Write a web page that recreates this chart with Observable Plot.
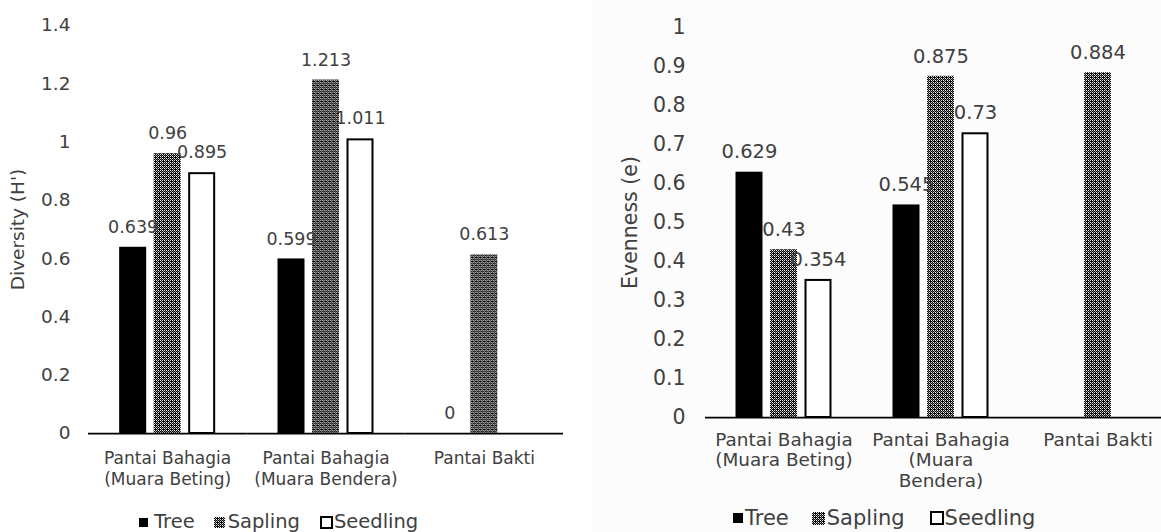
<!DOCTYPE html>
<html>
<head>
<meta charset="utf-8">
<script src="https://cdn.jsdelivr.net/npm/d3@7"></script>
<script src="https://cdn.jsdelivr.net/npm/@observablehq/plot@0.6"></script>
<style>
  html, body { margin: 0; padding: 0; background: #ffffff; }
  #root { position: relative; width: 1161px; height: 532px; overflow: hidden; background: #ffffff;
          font-family: "DejaVu Sans", Verdana, sans-serif; color: #404040; }
  .bg-right { position: absolute; left: 593px; top: 0; width: 568px; height: 532px; background: #fcfcfc; }
  .panel { position: absolute; top: 0; }
  .panel svg { max-width: none !important; }
  .legend { position: absolute; display: flex; align-items: center; white-space: nowrap; color: #404040; }
  .legend .item { display: flex; align-items: center; }
  .legend svg { display: block; }
</style>
</head>
<body>
<svg width="0" height="0" style="position:absolute">
  <defs>
    <pattern id="sapPattern" width="4" height="4" patternUnits="userSpaceOnUse">
      <rect width="4" height="4" fill="#000000"></rect>
      <rect x="0" y="0" width="1" height="1" fill="#ffffff"></rect>
      <rect x="2" y="2" width="1" height="1" fill="#ffffff"></rect>
      <rect x="2" y="0" width="1" height="1" fill="#e0e0e0"></rect>
      <rect x="0" y="2" width="1" height="1" fill="#e0e0e0"></rect>
      <rect x="1" y="1" width="1" height="1" fill="#a0a0a0"></rect>
      <rect x="3" y="3" width="1" height="1" fill="#a0a0a0"></rect>
      <rect x="1" y="3" width="1" height="1" fill="#606060"></rect>
    </pattern>
  </defs>
</svg>
<div id="root">
  <div class="bg-right"></div>
  <div id="left" class="panel" style="left:0px; width:570px"></div>
  <div id="right" class="panel" style="left:590px; width:590px"></div>
  <div id="legendLeft" class="legend" style="left:139px; top:512px; font-size:19.5px; line-height:20px"></div>
  <div id="legendRight" class="legend" style="left:733px; top:507px; font-size:21px; line-height:22px"></div>
</div>
<script>
// ---- data ----
const sites = ["Pantai Bahagia (Muara Beting)", "Pantai Bahagia (Muara Bendera)", "Pantai Bakti"];
const seriesNames = ["Tree", "Sapling", "Seedling"];

const diversityTree     = [0.639, 0.599, 0];
const diversitySapling  = [0.96, 1.213, 0.613];
const diversitySeedling = [0.895, 1.011, null];

const evennessTree     = [0.629, 0.545, null];
const evennessSapling  = [0.43, 0.875, 0.884];
const evennessSeedling = [0.354, 0.73, null];

const leftSiteLabels  = ["Pantai Bahagia\n(Muara Beting)", "Pantai Bahagia\n(Muara Bendera)", "Pantai Bakti"];
const rightSiteLabels = ["Pantai Bahagia\n(Muara Beting)", "Pantai Bahagia\n(Muara\nBendera)", "Pantai Bakti"];

const leftTicks  = [0, 0.2, 0.4, 0.6, 0.8, 1, 1.2, 1.4];
const leftTickLabels = ["0", "0.2", "0.4", "0.6", "0.8", "1", "1.2", "1.4"];
const rightTicks = [0, 0.1, 0.2, 0.3, 0.4, 0.5, 0.6, 0.7, 0.8, 0.9, 1];
const rightTickLabels = ["0", "0.1", "0.2", "0.3", "0.4", "0.5", "0.6", "0.7", "0.8", "0.9", "1"];

const leftTitle = "Diversity (H')";
const rightTitle = "Evenness (e)";

// ---- build rows ----
function rowsFrom(arrays) {
  const rows = [];
  seriesNames.forEach((s, j) => {
    arrays[j].forEach((v, i) => {
      if (v !== null && v !== undefined) rows.push({site: sites[i], series: s, value: v});
    });
  });
  return rows;
}
const diversityRows = rowsFrom([diversityTree, diversitySapling, diversitySeedling]);
const evennessRows  = rowsFrom([evennessTree, evennessSapling, evennessSeedling]);

const FONT = "'DejaVu Sans', Verdana, sans-serif";

function chart(o) {
  const step = (o.width - o.marginLeft - o.marginRight) / sites.length;
  const barStep = 34.5, pi = 0.2175;
  const po = (step / barStep - 3 + pi) / 2;
  return Plot.plot({
    width: o.width, height: o.height,
    marginLeft: o.marginLeft, marginRight: o.marginRight,
    marginTop: o.marginTop, marginBottom: o.marginBottom,
    style: {fontFamily: FONT, fontSize: o.tickFont + "px", color: "#404040", background: "transparent", overflow: "visible", maxWidth: "none"},
    fx: {domain: sites, padding: 0, round: false},
    x: {domain: seriesNames, paddingInner: pi, paddingOuter: po, axis: null, round: false},
    y: {domain: [0, o.yMax]},
    color: {domain: seriesNames, range: ["#000000", "url(#sapPattern)", "#ffffff"]},
    marks: [
      Plot.barY(o.rows.filter(d => d.series !== "Seedling"), {fx: "site", x: "series", y: "value", fill: "series"}),
      Plot.barY(o.rows.filter(d => d.series === "Seedling"), {fx: "site", x: "series", y: "value", fill: "#ffffff", stroke: "#000000", strokeWidth: 2, insetLeft: 1, insetRight: 1, insetTop: 1}),
      Plot.ruleY([0], {stroke: "#000000", strokeWidth: 1.75}),
      Plot.axisY({
        ticks: o.ticks, tickFormat: d => o.tickLabels[o.ticks.indexOf(d)],
        tickSize: 0, tickPadding: o.tickPadding, line: true,
        stroke: "#000000", strokeWidth: 1.6, fill: "#404040", fontSize: o.tickFont,
        label: o.title, labelAnchor: "center", labelOffset: o.labelOffset, labelArrow: "none"
      }),
      Plot.axisFx({
        anchor: "bottom", tickSize: 0, tickPadding: o.catPadding, fontSize: o.catFont,
        lineHeight: o.lineHeight, label: null, fill: "#404040",
        tickFormat: d => o.siteLabels[sites.indexOf(d)]
      }),
      Plot.text(o.rows, {fx: "site", x: "series", y: "value", text: d => String(d.value), dy: -20, fontSize: o.labelFont, fill: "#404040"})
    ]
  });
}

document.getElementById("left").appendChild(chart({
  rows: diversityRows, ticks: leftTicks, tickLabels: leftTickLabels, yMax: 1.4,
  siteLabels: leftSiteLabels, title: leftTitle,
  width: 570, height: 500, marginLeft: 88, marginRight: 7, marginTop: 25, marginBottom: 67,
  tickFont: 18.5, labelFont: 17.5, catFont: 17, lineHeight: 1.22,
  tickPadding: 18, catPadding: 16, labelOffset: 78
}));

document.getElementById("right").appendChild(chart({
  rows: evennessRows, ticks: rightTicks, tickLabels: rightTickLabels, yMax: 1,
  siteLabels: rightSiteLabels, title: rightTitle,
  width: 590, height: 500, marginLeft: 115, marginRight: 4, marginTop: 27, marginBottom: 83,
  tickFont: 20.5, labelFont: 19.5, catFont: 18.4, lineHeight: 1.11,
  tickPadding: 20, catPadding: 14, labelOffset: 83
}));

// ---- legends ----
function legend(el, cfg) {
  seriesNames.forEach((s, i) => {
    const item = document.createElement("div");
    item.className = "item";
    if (i > 0) item.style.marginLeft = cfg.gaps[i - 1] + "px";
    const sz = cfg.sizes[i];
    const ns = "http://www.w3.org/2000/svg";
    const svg = document.createElementNS(ns, "svg");
    svg.setAttribute("width", sz); svg.setAttribute("height", sz);
    svg.style.marginRight = cfg.iconGap[i] + "px";
    const r = document.createElementNS(ns, "rect");
    if (s === "Seedling") {
      r.setAttribute("x", 1); r.setAttribute("y", 1);
      r.setAttribute("width", sz - 2); r.setAttribute("height", sz - 2);
      r.setAttribute("fill", "#ffffff"); r.setAttribute("stroke", "#000000"); r.setAttribute("stroke-width", 2);
    } else {
      r.setAttribute("width", sz); r.setAttribute("height", sz);
      r.setAttribute("fill", s === "Tree" ? "#000000" : "url(#sapPattern)");
    }
    svg.appendChild(r);
    item.appendChild(svg);
    const t = document.createElement("span");
    t.textContent = s;
    item.appendChild(t);
    el.appendChild(item);
  });
}
legend(document.getElementById("legendLeft"), {sizes: [9, 11, 13], iconGap: [6, 3, 1], gaps: [19, 20]});
legend(document.getElementById("legendRight"), {sizes: [10, 13, 14], iconGap: [2, 2, 1], gaps: [23, 25]});
</script>
</body>
</html>
